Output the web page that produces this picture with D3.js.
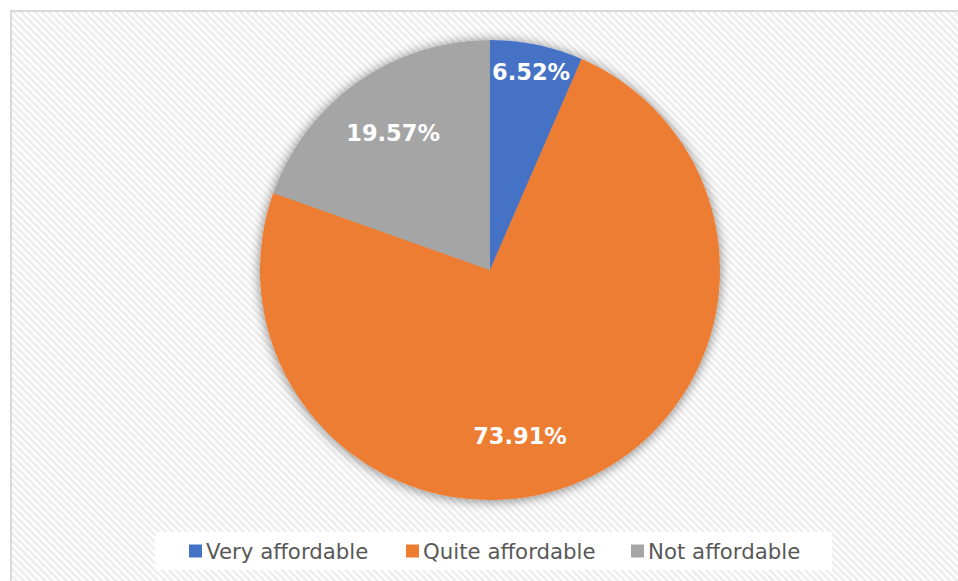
<!DOCTYPE html>
<html>
<head>
<meta charset="utf-8">
<script src="https://cdn.jsdelivr.net/npm/d3@7"></script>
<style>
  html, body { margin: 0; padding: 0; background: #ffffff; }
  svg { display: block; }
</style>
</head>
<body>
<svg id="chart" width="958" height="581"></svg>
<script>
// Affordability survey: share of respondents per answer
const categories = ["Very affordable", "Quite affordable", "Not affordable"];
const shares = [6.52, 73.91, 19.57];
const colors = ["#4472C4", "#ED7D31", "#A5A5A5"];

const W = 958, H = 581;
const cx = 490, cy = 270, R = 230;

const svg = d3.select("#chart");
const defs = svg.append("defs");

// light diagonal hatch used for the chart area fill
const hatch = defs.append("pattern")
  .attr("id", "hatch")
  .attr("patternUnits", "userSpaceOnUse")
  .attr("width", 5).attr("height", 5)
  .attr("patternTransform", "rotate(-45)");
hatch.append("rect").attr("width", 5).attr("height", 5).attr("fill", "#ffffff");
hatch.append("rect").attr("width", 2.4).attr("height", 5).attr("fill", "#ececec");

// soft shadow around the pie
const shadow = defs.append("filter")
  .attr("id", "pieShadow")
  .attr("x", "-20%").attr("y", "-20%")
  .attr("width", "140%").attr("height", "140%");
shadow.append("feGaussianBlur").attr("in", "SourceAlpha").attr("stdDeviation", 6).attr("result", "blur");
shadow.append("feOffset").attr("in", "blur").attr("dx", 0).attr("dy", 1).attr("result", "off");
shadow.append("feComponentTransfer").attr("in", "off").attr("result", "soft")
  .append("feFuncA").attr("type", "linear").attr("slope", 0.5);
const merge = shadow.append("feMerge");
merge.append("feMergeNode").attr("in", "soft");
merge.append("feMergeNode").attr("in", "SourceGraphic");

// chart area
svg.append("rect")
  .attr("x", 11).attr("y", 11)
  .attr("width", W).attr("height", H)
  .attr("fill", "url(#hatch)")
  .attr("stroke", "#d9d9d9")
  .attr("stroke-width", 2);

// pie
const pie = d3.pie().sort(null).value(d => d)(shares);
const arc = d3.arc().innerRadius(0).outerRadius(R);

const g = svg.append("g").attr("transform", `translate(${cx},${cy})`);
g.append("g").attr("filter", "url(#pieShadow)")
  .selectAll("path")
  .data(pie)
  .join("path")
  .attr("d", arc)
  .attr("fill", (d, i) => colors[i]);

// data labels: radial distance per slice, with an angle override for the large slice
const labelRadius = [202, 169, 168];
const labelAngle = [null, 2.963, null];
g.selectAll("text.lbl")
  .data(pie)
  .join("text")
  .attr("class", "lbl")
  .attr("transform", (d, i) => {
    const a = labelAngle[i] != null ? labelAngle[i] : (d.startAngle + d.endAngle) / 2;
    const r = labelRadius[i];
    return `translate(${r * Math.sin(a)},${-r * Math.cos(a)})`;
  })
  .attr("text-anchor", "middle")
  .attr("dominant-baseline", "central")
  .attr("font-family", "DejaVu Sans, Verdana, sans-serif")
  .attr("font-weight", "bold")
  .attr("font-size", 22.5)
  .attr("fill", "#ffffff")
  .text(d => d.data.toFixed(2) + "%");

// legend
const legendBox = { x: 155, y: 532, w: 677, h: 38 };
svg.append("rect")
  .attr("x", legendBox.x).attr("y", legendBox.y)
  .attr("width", legendBox.w).attr("height", legendBox.h)
  .attr("fill", "#ffffff");

const legendX = [189, 406, 631];
const legend = svg.append("g")
  .selectAll("g")
  .data(categories)
  .join("g")
  .attr("transform", (d, i) => `translate(${legendX[i]},${legendBox.y + legendBox.h / 2})`);
legend.append("rect")
  .attr("x", 0).attr("y", -6.5)
  .attr("width", 13).attr("height", 13)
  .attr("fill", (d, i) => colors[i]);
legend.append("text")
  .attr("x", 17)
  .attr("dominant-baseline", "central")
  .attr("font-family", "DejaVu Sans, Verdana, sans-serif")
  .attr("font-size", 21.3)
  .attr("fill", "#595959")
  .text(d => d);
</script>
</body>
</html>
